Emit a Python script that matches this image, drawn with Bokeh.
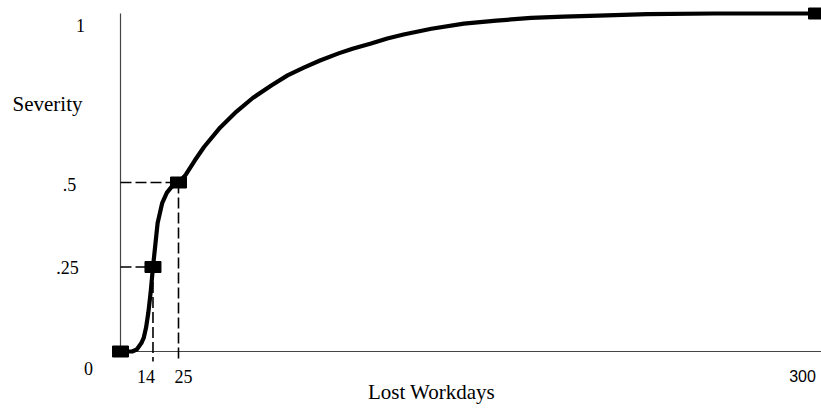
from bokeh.plotting import figure
from bokeh.models import Range1d, Label
from bokeh.embed import file_html
from bokeh.resources import INLINE
from bokeh.core.properties import value

# ---- data ----
curve_x = [0, 3, 5, 7, 9, 10, 11, 12, 13, 14, 15, 16, 18, 20, 22, 25, 28, 32, 36,
           43, 50, 57, 65, 72, 79, 86, 94, 100, 108, 115, 122, 134, 148, 162,
           177, 191, 206, 227, 256, 300]
curve_y = [0, 0, 0, 0.006, 0.025, 0.04, 0.07, 0.115, 0.175, 0.25, 0.315, 0.38,
           0.44, 0.47, 0.487, 0.50, 0.522, 0.565, 0.605, 0.663, 0.71, 0.75,
           0.787, 0.817, 0.84, 0.861, 0.882, 0.896, 0.911, 0.926, 0.938, 0.955,
           0.97, 0.979, 0.987, 0.991, 0.994, 0.998, 1.0, 1.0]
marker_x = [0, 14, 25, 300]
marker_y = [0, 0.25, 0.5, 1.0]
guide_x = [14, 25]
guide_y = [0.25, 0.5]
x_tick_values = [14, 25]
x_tick_labels = ["14", "25"]
x_end_value = [300]
x_end_label = ["300"]
y_tick_values = [0.25, 0.5, 1.0]
y_tick_labels = [".25", ".5", "1"]
origin_label = ["0"]
x_title = "Lost Workdays"
y_title = "Severity"

# ---- layout ----
W, H = 821, 408
ox, oy = 120, 351          # origin position in figure pixels
px_per_day = 2.32
px_per_unit = 338.0

p = figure(width=W, height=H,
           x_range=Range1d(-ox / px_per_day, (W - ox) / px_per_day),
           y_range=Range1d(-(H - oy) / px_per_unit, oy / px_per_unit),
           output_backend="svg", toolbar_location=None,
           x_axis_location=None, y_axis_location=None,
           min_border=0, outline_line_color=None,
           background_fill_color="white", border_fill_color="white")
p.grid.visible = False

serif = value("Liberation Serif")

# axes lines
p.segment(x0=[0, 0], y0=[0, 0], x1=[0, p.x_range.end], y1=[max(marker_y), 0],
          line_color="#444444", line_width=1.2)

# dashed guides
p.segment(x0=[0] * len(guide_x), y0=guide_y, x1=guide_x, y1=guide_y,
          line_color="black", line_width=1.6, line_dash="11 4")
below = -10 / px_per_unit
p.segment(x0=guide_x, y0=guide_y, x1=guide_x, y1=[below] * len(guide_x),
          line_color="black", line_width=1.6, line_dash="11 4")

# curve
p.line(curve_x, curve_y, line_color="black", line_width=4.2, line_join="round")

# markers
p.rect(marker_x, marker_y, width=16, height=11, width_units="screen",
       height_units="screen", fill_color="black", line_color="black")

# tick labels
p.text(x=[0] * len(y_tick_values), y=y_tick_values, text=y_tick_labels,
       x_offset=[-53, -51, -40], y_offset=[0, 2, 12],
       text_align="center", text_baseline="middle",
       text_font=serif, text_font_size="18px", text_color="black")
p.text(x=x_tick_values, y=[0] * len(x_tick_values), text=x_tick_labels,
       x_offset=[-7, 5], y_offset=[25, 25],
       text_align="center", text_baseline="middle",
       text_font=serif, text_font_size="18px", text_color="black")
p.text(x=x_end_value, y=[0], text=x_end_label, x_offset=-14, y_offset=24,
       text_align="center", text_baseline="middle",
       text_font=value("Liberation Sans"), text_font_size="16px", text_color="black")
p.text(x=[0], y=[0], text=origin_label, x_offset=-32, y_offset=17,
       text_align="center", text_baseline="middle",
       text_font=serif, text_font_size="18px", text_color="black")

# titles
p.add_layout(Label(x=47, y=H - 103, x_units="screen", y_units="screen",
                   text=y_title, text_align="center", text_baseline="middle",
                   text_font="Liberation Serif", text_font_size="21px",
                   text_color="black"))
p.add_layout(Label(x=431, y=H - 391, x_units="screen", y_units="screen",
                   text=x_title, text_align="center", text_baseline="middle",
                   text_font="Liberation Serif", text_font_size="21px",
                   text_color="black"))

open("out.html", "w").write(file_html(p, INLINE))
